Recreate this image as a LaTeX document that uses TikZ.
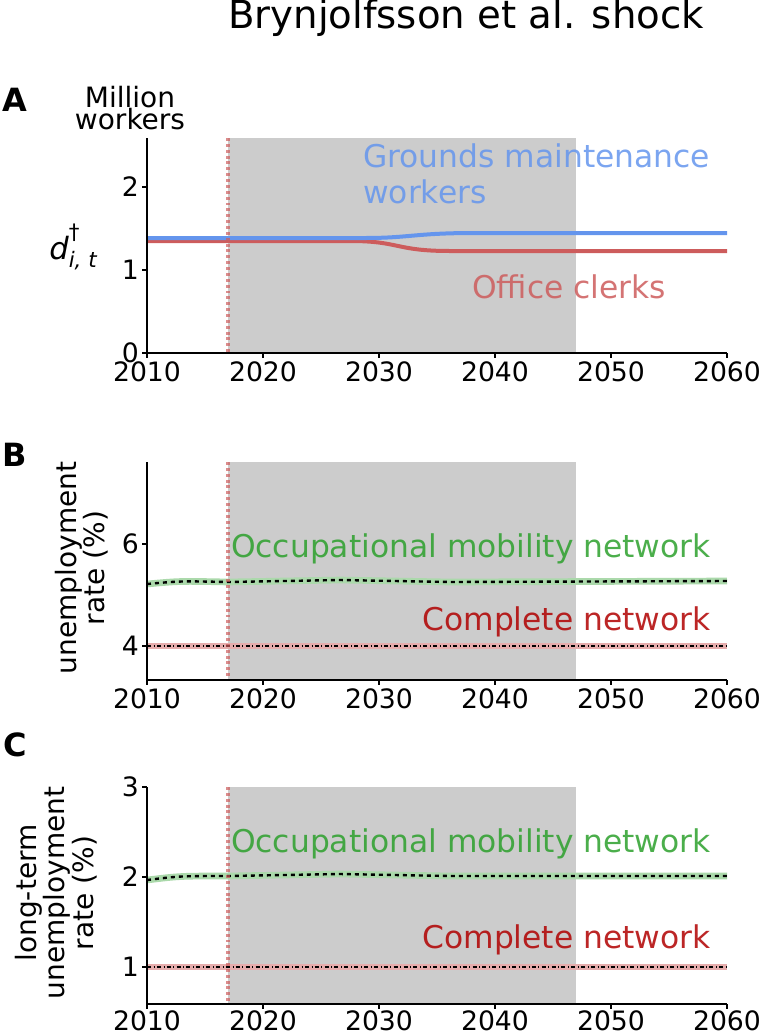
\documentclass[tikz,border=0pt]{standalone}
\usepackage{fontspec}
\setmainfont{DejaVu Sans}
\definecolor{blueline}{HTML}{6495ED}
\definecolor{redline}{HTML}{CD5C5C}
\definecolor{greenline}{HTML}{2CA02C}
\definecolor{darkred}{HTML}{B00000}
\definecolor{shadegray}{HTML}{CCCCCC}
\begin{document}
\begin{tikzpicture}[x = 0.75pt, y = -0.75pt, % pixel grid
                every node/.style = {inner sep = 0pt},
                tick/.style = {font = \fontsize{20}{20}\selectfont},
                lbl/.style = {font = \fontsize{23.5}{27}\selectfont, text opacity = 0.85},
                spine/.style = {line width = 0.8pt},
                shockline/.style = {redline, dash pattern = on 2.2pt off 2.2pt, line width = 2.5pt, opacity = 0.7}
            ]
            \useasboundingbox (0,0) rectangle (760,1032);

            % title
            \node (title) at (466,18) {\fontsize{29}{29}\selectfont Brynjolfsson et al. shock};

            % panel A
            \fill[shadegray] (228,138) rectangle (576,353);
            \draw[redline, line width = 3pt] (147,241) -- (350,241)
                .. controls (400,241) and (395,251) .. (450,251) -- (727,251);
            \draw[blueline, line width = 3pt] (147,238) -- (365,238)
                .. controls (410,238) and (415,233) .. (475,233) -- (727,233);
            \draw[shockline] (228,138) -- (228,353);
            \draw[spine] (147,138) -- (147,353) -- (727,353);
            \foreach \v/\y in {0/353, 1/270, 2/187} {
                \draw[spine] (147,\y) -- (142,\y);
                \node[tick, anchor = east] (ya\v) at (139,\y) {\v};
            }
            \foreach \t [count = \i from 0] in {2010,2020,...,2060} {
                \draw[spine] (147+116*\i,353) -- (147+116*\i,358);
                \node[tick, anchor = north] (xa\i) at (147+116*\i,361) {\t};
            }
            \node[font = \fontsize{24}{24}\selectfont\bfseries] (A) at (15,100) {A};
            \node[font = \fontsize{21}{17}\selectfont, align = center] (unita) at (130,108) {Million\\workers};
            \node[font = \fontsize{23}{23}\selectfont\itshape] (da) at (73,247)
                {d\rlap{\raisebox{1.2ex}{\fontsize{16}{16}\selectfont\upshape †}}\raisebox{-0.5ex}{\fontsize{16}{16}\selectfont i, t}};
            \node[lbl, text = blueline, align = left, anchor = north west] (ground) at (363,143)
                {Grounds maintenance\\workers};
            \node[lbl, text = redline, anchor = west] (office) at (472,287) {Office clerks};

            % panel B
            \fill[shadegray] (228,462) rectangle (576,680);
            \draw[greenline!40, line width = 5pt] (147,584) .. controls (180,581) .. (228,582)
                -- (340,580) -- (450,582) -- (727,581);
            \draw[dashed, line width = 1.8pt] (147,584) .. controls (180,581) .. (228,582)
                -- (340,580) -- (450,582) -- (727,581);
            \draw[redline!50, line width = 5pt] (147,646) -- (727,646);
            \draw[dash dot, line width = 1.8pt] (147,646) -- (727,646);
            \draw[shockline] (228,462) -- (228,680);
            \draw[spine] (147,462) -- (147,680) -- (727,680);
            \foreach \v/\y in {4/646, 6/544} {
                \draw[spine] (147,\y) -- (142,\y);
                \node[tick, anchor = east] (yb\v) at (139,\y) {\v};
            }
            \foreach \t [count = \i from 0] in {2010,2020,...,2060} {
                \draw[spine] (147+116*\i,680) -- (147+116*\i,685);
                \node[tick, anchor = north] (xb\i) at (147+116*\i,688) {\t};
            }
            \node[font = \fontsize{24}{24}\selectfont\bfseries] (B) at (15,455) {B};
            \node[font = \fontsize{21}{19}\selectfont, align = center, rotate = 90] (unitb) at (82,568) {unemployment\\rate (\%)};
            \node[lbl, text = greenline, anchor = east] (omnb) at (711,549) {Occupational mobility network};
            \node[lbl, text = darkred, anchor = east] (cnb) at (711,622) {Complete network};

            % panel C
            \fill[shadegray] (228,787) rectangle (576,1004);
            \draw[greenline!40, line width = 5pt] (147,880) .. controls (180,876) .. (228,876)
                -- (340,874) -- (450,876) -- (727,876);
            \draw[dashed, line width = 1.8pt] (147,880) .. controls (180,876) .. (228,876)
                -- (340,874) -- (450,876) -- (727,876);
            \draw[redline!50, line width = 5pt] (147,967) -- (727,967);
            \draw[dash dot, line width = 1.8pt] (147,967) -- (727,967);
            \draw[shockline] (228,787) -- (228,1004);
            \draw[spine] (147,787) -- (147,1004) -- (727,1004);
            \foreach \v/\y in {1/967, 2/877, 3/787} {
                \draw[spine] (147,\y) -- (142,\y);
                \node[tick, anchor = east] (yc\v) at (139,\y) {\v};
            }
            \foreach \t [count = \i from 0] in {2010,2020,...,2060} {
                \draw[spine] (147+116*\i,1004) -- (147+116*\i,1009);
                \node[tick, anchor = north] (xc\i) at (147+116*\i,1010) {\t};
            }
            \node[font = \fontsize{24}{24}\selectfont\bfseries] (C) at (15,745) {C};
            \node[font = \fontsize{21}{19}\selectfont, align = center, rotate = 90] (unitc) at (56,893) {long-term\\unemployment\\rate (\%)};
            \node[lbl, text = greenline, anchor = east] (omnc) at (711,844) {Occupational mobility network};
            \node[lbl, text = darkred, anchor = east] (cnc) at (711,940) {Complete network};
\end{tikzpicture}
\end{document}
